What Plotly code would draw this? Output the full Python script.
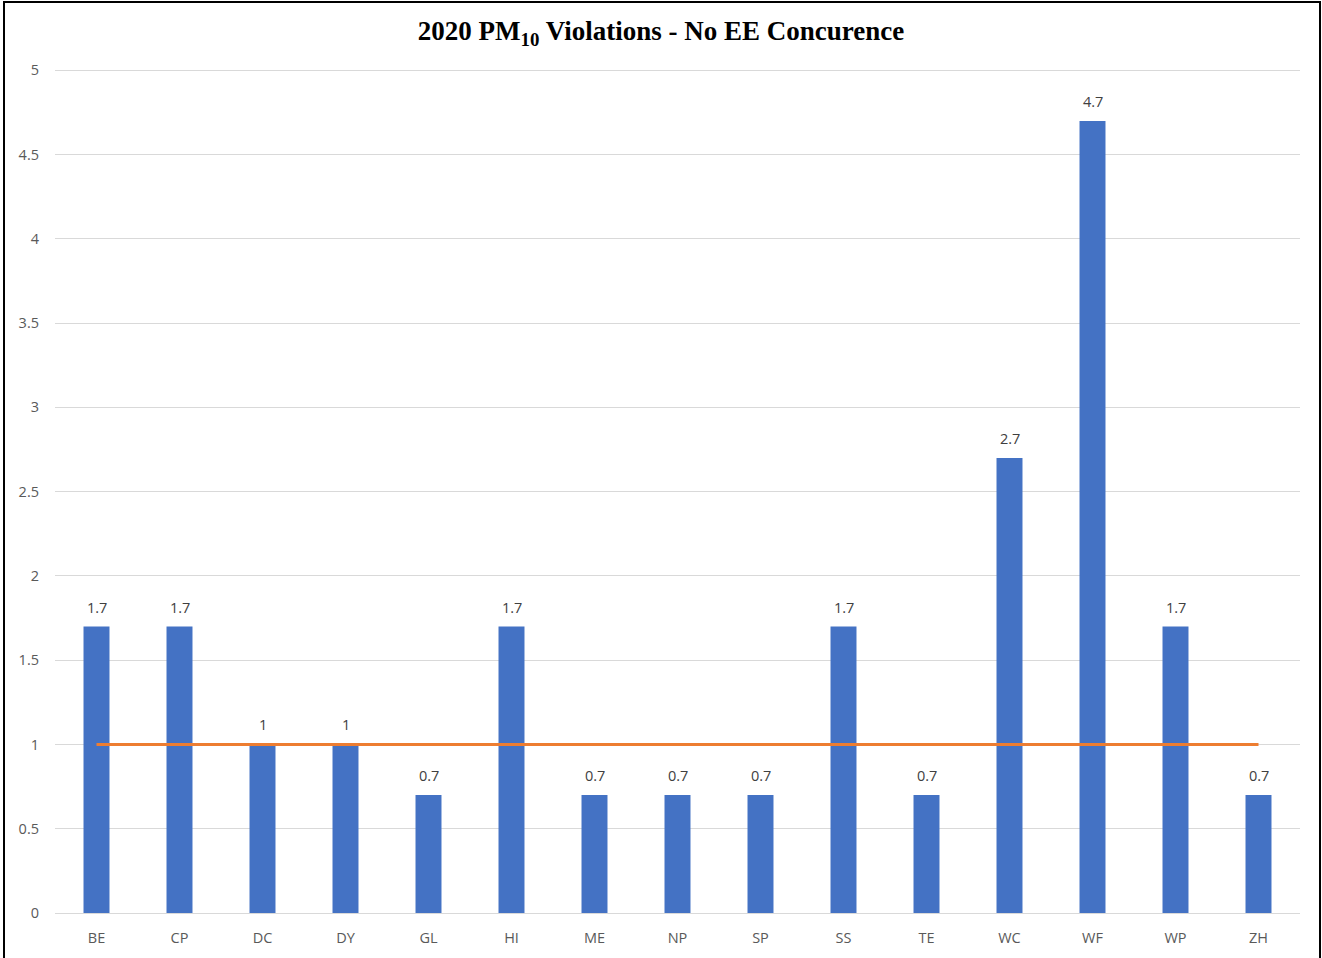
import plotly.graph_objects as go

categories = ["BE", "CP", "DC", "DY", "GL", "HI", "ME", "NP", "SP", "SS", "TE", "WC", "WF", "WP", "ZH"]
violations = [1.7, 1.7, 1, 1, 0.7, 1.7, 0.7, 0.7, 0.7, 1.7, 0.7, 2.7, 4.7, 1.7, 0.7]
threshold = [1] * len(categories)
y_ticks = [0, 0.5, 1, 1.5, 2, 2.5, 3, 3.5, 4, 4.5, 5]
y_tick_text = ["0", "0.5", "1", "1.5", "2", "2.5", "3", "3.5", "4", "4.5", "5"]

W, H = 1322, 958
ML, MR, MT, MB = 55, 22, 67, 45
pw, ph = W - ML - MR, H - MT - MB

def px_x(x):
    return (x - ML) / pw

def px_y(y):
    return (H - MB - y) / ph

fig = go.Figure()
fig.add_trace(go.Bar(
    x=categories, y=violations,
    marker=dict(color="#4472C4", line=dict(width=0)),
    showlegend=False,
))
fig.add_trace(go.Scatter(
    x=categories, y=threshold, mode="lines",
    line=dict(color="#ED7D31", width=3),
    showlegend=False,
))

annotations = [
    dict(x=c, y=v, xref="x", yref="y", text=f"{v:g}", showarrow=False,
         yanchor="bottom", yshift=8,
         font=dict(family="Open Sans, sans-serif", size=14.5, color="#404040"))
    for c, v in zip(categories, violations)
]

fig.update_layout(
    width=W, height=H,
    margin=dict(l=ML, r=MR, t=MT, b=MB),
    paper_bgcolor="white", plot_bgcolor="white",
    bargap=0.687,
    title=dict(
        text="<b>2020 PM<sub>10</sub> Violations - No EE Concurence</b>",
        x=0.5, xanchor="center", y=1 - 31 / H, yanchor="middle",
        font=dict(family="Liberation Serif, serif", size=27, color="#000000"),
    ),
    xaxis=dict(
        showgrid=False, showline=False, ticks="",
        tickfont=dict(family="Open Sans, sans-serif", size=14.5, color="#595959"),
        ticklabelstandoff=14,
    ),
    yaxis=dict(
        range=[0, 5.02], tickvals=y_ticks, ticktext=y_tick_text,
        showgrid=True, gridcolor="#D9D9D9", gridwidth=1,
        zeroline=True, zerolinecolor="#D9D9D9", zerolinewidth=1,
        showline=False, ticks="",
        tickfont=dict(family="Open Sans, sans-serif", size=14.5, color="#595959"),
        ticklabelstandoff=15,
    ),
    annotations=annotations,
    shapes=[dict(
        type="rect", xref="paper", yref="paper",
        x0=px_x(4), x1=px_x(1320), y0=px_y(962), y1=px_y(2),
        line=dict(color="#000000", width=2), fillcolor="rgba(0,0,0,0)",
        layer="above",
    )],
)

fig.write_html("out.html")
